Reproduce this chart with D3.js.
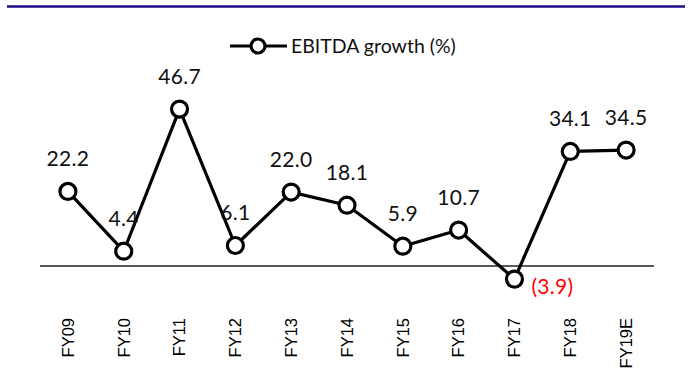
<!DOCTYPE html>
<html><head><meta charset="utf-8">
<script src="https://cdn.jsdelivr.net/npm/d3@7"></script>
<style>body{margin:0;background:#fff}svg{display:block}</style>
</head><body>
<script>
const categories = ["FY09","FY10","FY11","FY12","FY13","FY14","FY15","FY16","FY17","FY18","FY19E"];
const values = [22.2, 4.4, 46.7, 6.1, 22.0, 18.1, 5.9, 10.7, -3.9, 34.1, 34.5];
const labels = ["22.2","4.4","46.7","6.1","22.0","18.1","5.9","10.7","(3.9)","34.1","34.5"];
const seriesName = "EBITDA growth (%)";

const W = 692, H = 383;
const svg = d3.select("body").append("svg").attr("width", W).attr("height", H);

// top rule
svg.append("line").attr("x1", 7).attr("x2", 685).attr("y1", 6.5).attr("y2", 6.5)
  .attr("stroke", "#1c0f88").attr("stroke-width", 2.5);

const x = d3.scaleBand().domain(categories).range([40, 654]);
const y = d3.scaleLinear().domain([-10, 50]).range([266 + 33.6, 266 - 168]);

// zero axis line
svg.append("line").attr("x1", 40).attr("x2", 654).attr("y1", y(0)).attr("y2", y(0))
  .attr("stroke", "#222").attr("stroke-width", 1.5);

// category axis labels
const xAxis = d3.axisBottom(x).tickSize(0).tickPadding(0);
const gx = svg.append("g").attr("transform", "translate(0,318)").call(xAxis);
gx.select(".domain").remove();
gx.selectAll("text")
  .attr("transform", "rotate(-90)")
  .attr("x", 0).attr("y", 0).attr("dy", "0.35em")
  .style("text-anchor", "end")
  .attr("font-family", "'Liberation Sans', Arial, sans-serif")
  .attr("font-size", "16.5px").attr("fill", "#000");

const cx = d => x(d) + x.bandwidth() / 2;
const data = categories.map((c, i) => ({c, v: values[i], l: labels[i]}));

const line = d3.line().x(d => cx(d.c)).y(d => y(d.v));
svg.append("path").datum(data).attr("d", line)
  .attr("fill", "none").attr("stroke", "#000").attr("stroke-width", 3.2)
  .attr("stroke-linejoin", "round");

svg.selectAll("circle.pt").data(data).join("circle").attr("class", "pt")
  .attr("cx", d => cx(d.c)).attr("cy", d => y(d.v)).attr("r", 8)
  .attr("fill", "#fff").attr("stroke", "#000").attr("stroke-width", 3.2);

const font = "Lato, 'Open Sans', sans-serif";
svg.selectAll("text.lbl").data(data).join("text").attr("class", "lbl")
  .attr("x", d => d.v < 0 ? cx(d.c) + 17 : cx(d.c))
  .attr("y", d => d.v < 0 ? y(d.v) + 15 : y(d.v) - 25.5)
  .attr("text-anchor", d => d.v < 0 ? "start" : "middle")
  .attr("font-family", font).attr("font-size", "21px")
  .attr("letter-spacing", "0.3px")
  .attr("fill", d => d.v < 0 ? "#ff0000" : "#111")
  .text(d => d.l);

// legend
const lg = svg.append("g");
lg.append("line").attr("x1", 230).attr("x2", 287).attr("y1", 46).attr("y2", 46)
  .attr("stroke", "#000").attr("stroke-width", 3.2);
lg.append("circle").attr("cx", 258).attr("cy", 46).attr("r", 7)
  .attr("fill", "#fff").attr("stroke", "#000").attr("stroke-width", 3.2);
lg.append("text").attr("x", 291).attr("y", 53)
  .attr("font-family", font).attr("font-size", "19.5px").attr("fill", "#111")
  .text(seriesName);
</script>
</body></html>
